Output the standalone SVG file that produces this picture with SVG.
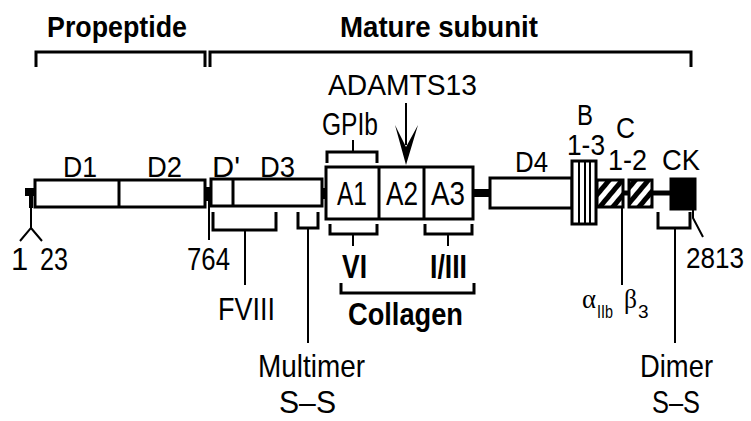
<svg xmlns="http://www.w3.org/2000/svg" width="751" height="421" viewBox="0 0 751 421">
<style>
text{font-family:"Liberation Sans",Arial,sans-serif;fill:#000}
.b{font-weight:bold}
.box{fill:#fff;stroke:#000;stroke-width:3}
.br{fill:none;stroke:#000;stroke-width:3}
.th{fill:none;stroke:#000;stroke-width:2}
.gr{font-family:"Liberation Serif","Times New Roman",serif}
</style>
<defs>
<pattern id="hatch" patternUnits="userSpaceOnUse" width="10" height="10" patternTransform="rotate(40)">
<rect x="0" y="0" width="10" height="10" fill="#fff"/>
<rect x="0" y="0" width="5" height="10" fill="#000"/>
</pattern>
</defs>
<rect width="751" height="421" fill="#fff"/>

<g id="propeptide">
<text class="b" x="47" y="37" font-size="29" textLength="140" lengthAdjust="spacingAndGlyphs">Propeptide</text>
<path class="br" d="M36,67 V52 H205 V67"/>
</g>
<g id="mature">
<text class="b" x="340" y="37" font-size="29" textLength="198" lengthAdjust="spacingAndGlyphs">Mature subunit</text>
<path class="br" d="M210,67 V52 H691 V67"/>
</g>

<g id="connectors">
<rect x="204" y="187" width="8" height="14" fill="#000"/>
<rect x="321" y="188" width="6" height="11" fill="#000"/>
<line x1="472" y1="193" x2="491" y2="193" stroke="#000" stroke-width="8"/>
<line x1="622" y1="193" x2="630" y2="193" stroke="#000" stroke-width="5"/>
<line x1="651" y1="193" x2="671" y2="193" stroke="#000" stroke-width="5"/>
</g>

<g id="start">
<rect x="25" y="188" width="10" height="8" fill="#000"/>
<line x1="31" y1="188" x2="31" y2="208" stroke="#000" stroke-width="4"/>
<path class="th" d="M31,207 V228 L20,241 M31,228 L42,241"/>
<text x="11" y="270" font-size="31">1</text>
<text x="40" y="270" font-size="31" textLength="28" lengthAdjust="spacingAndGlyphs">23</text>
</g>

<g id="D1D2">
<rect class="box" x="35" y="180" width="170" height="27"/>
<line x1="119" y1="180" x2="119" y2="207" stroke="#000" stroke-width="3"/>
<text x="63" y="177" font-size="30" textLength="34" lengthAdjust="spacingAndGlyphs">D1</text>
<text x="147" y="177" font-size="30" textLength="35" lengthAdjust="spacingAndGlyphs">D2</text>
</g>

<g id="p764">
<line x1="209" y1="200" x2="209" y2="240" stroke="#000" stroke-width="2"/>
<text x="187" y="270" font-size="31" textLength="43" lengthAdjust="spacingAndGlyphs">764</text>
</g>

<g id="D3">
<rect class="box" x="211" y="179" width="111" height="27"/>
<line x1="233" y1="179" x2="233" y2="206" stroke="#000" stroke-width="3"/>
<text x="212" y="177" font-size="30" textLength="28" lengthAdjust="spacingAndGlyphs">D'</text>
<text x="260" y="177" font-size="30" textLength="35" lengthAdjust="spacingAndGlyphs">D3</text>
</g>

<g id="FVIII">
<path class="br" d="M213,212 V230 H276 V212"/>
<line class="th" x1="245" y1="230" x2="245" y2="285"/>
<text x="218" y="320" font-size="31" textLength="57" lengthAdjust="spacingAndGlyphs">FVIII</text>
</g>

<g id="multimer">
<path class="br" d="M298,212 V228 H318 V212"/>
<line class="th" x1="308" y1="228" x2="308" y2="343"/>
<text x="258" y="377" font-size="32" textLength="107" lengthAdjust="spacingAndGlyphs">Multimer</text>
<text x="279" y="413" font-size="32" textLength="57" lengthAdjust="spacingAndGlyphs">S–S</text>
</g>

<g id="A">
<rect class="box" x="326" y="167" width="147" height="52"/>
<line x1="379" y1="167" x2="379" y2="219" stroke="#000" stroke-width="3"/>
<line x1="424" y1="167" x2="424" y2="219" stroke="#000" stroke-width="3"/>
<text x="337" y="205" font-size="33" textLength="30" lengthAdjust="spacingAndGlyphs">A1</text>
<text x="386" y="205" font-size="33" textLength="32" lengthAdjust="spacingAndGlyphs">A2</text>
<text x="431" y="205" font-size="33" textLength="34" lengthAdjust="spacingAndGlyphs">A3</text>
</g>

<g id="GPIb">
<path class="br" d="M327,163 V152 H377 V163"/>
<line class="th" x1="353" y1="152" x2="353" y2="140"/>
<text x="322" y="135" font-size="31" textLength="56" lengthAdjust="spacingAndGlyphs">GPIb</text>
</g>

<g id="ADAMTS13">
<text x="328" y="95" font-size="30" textLength="149" lengthAdjust="spacingAndGlyphs">ADAMTS13</text>
<line class="th" x1="406" y1="103" x2="406" y2="145"/>
<polygon points="395,125 406,147 418,125 406,165" fill="#000"/>
</g>

<g id="VI">
<path class="br" d="M330,224 V234 H377 V224"/>
<line class="th" x1="353" y1="234" x2="353" y2="246"/>
<text class="b" x="342" y="278" font-size="33" textLength="25" lengthAdjust="spacingAndGlyphs">VI</text>
</g>

<g id="IIII">
<path class="br" d="M425,224 V234 H472 V224"/>
<line class="th" x1="448" y1="234" x2="448" y2="246"/>
<text class="b" x="430" y="278" font-size="33" textLength="37" lengthAdjust="spacingAndGlyphs">I/III</text>
</g>

<g id="collagen">
<path class="br" d="M341,283 V293 H474 V283"/>
<text class="b" x="348" y="325" font-size="31" textLength="115" lengthAdjust="spacingAndGlyphs">Collagen</text>
</g>

<g id="D4">
<rect class="box" x="490" y="178" width="82" height="30"/>
<text x="515" y="172" font-size="30" textLength="33" lengthAdjust="spacingAndGlyphs">D4</text>
</g>

<g id="B">
<rect class="box" x="572" y="161" width="24" height="63"/>
<line x1="579" y1="161" x2="579" y2="224" stroke="#000" stroke-width="2"/>
<line x1="585" y1="161" x2="585" y2="224" stroke="#000" stroke-width="2"/>
<line x1="590" y1="161" x2="590" y2="224" stroke="#000" stroke-width="2"/>
<text x="577" y="125" font-size="30" textLength="16" lengthAdjust="spacingAndGlyphs">B</text>
<text x="567" y="155" font-size="30" textLength="38" lengthAdjust="spacingAndGlyphs">1-3</text>
</g>

<g id="C">
<rect x="597" y="180" width="26" height="27" fill="url(#hatch)" stroke="#000" stroke-width="3"/>
<rect x="629" y="180" width="23" height="27" fill="url(#hatch)" stroke="#000" stroke-width="3"/>
<text x="616" y="138" font-size="30" textLength="19" lengthAdjust="spacingAndGlyphs">C</text>
<text x="608" y="170" font-size="30" textLength="39" lengthAdjust="spacingAndGlyphs">1-2</text>
</g>

<g id="integrin">
<line class="th" x1="622" y1="207" x2="622" y2="285"/>
<text class="gr" x="582" y="308" font-size="28" textLength="14" lengthAdjust="spacingAndGlyphs">α</text>
<text x="597" y="318" font-size="18" textLength="16" lengthAdjust="spacingAndGlyphs">IIb</text>
<text class="gr" x="624" y="308" font-size="28" textLength="13" lengthAdjust="spacingAndGlyphs">β</text>
<text x="638" y="318" font-size="19">3</text>
</g>

<g id="CK">
<rect x="670" y="178" width="26" height="32" fill="#000" stroke="#000" stroke-width="1"/>
<text x="662" y="170" font-size="30" textLength="38" lengthAdjust="spacingAndGlyphs">CK</text>
</g>

<g id="p2813">
<path class="th" d="M693,209 V218 L703,237"/>
<text x="686" y="268" font-size="29" textLength="58" lengthAdjust="spacingAndGlyphs">2813</text>
</g>

<g id="dimer">
<path class="br" d="M658,212 V228 H690 V212"/>
<line class="th" x1="675" y1="228" x2="675" y2="343"/>
<text x="640" y="377" font-size="32" textLength="73" lengthAdjust="spacingAndGlyphs">Dimer</text>
<text x="652" y="413" font-size="32" textLength="48" lengthAdjust="spacingAndGlyphs">S–S</text>
</g>
</svg>
